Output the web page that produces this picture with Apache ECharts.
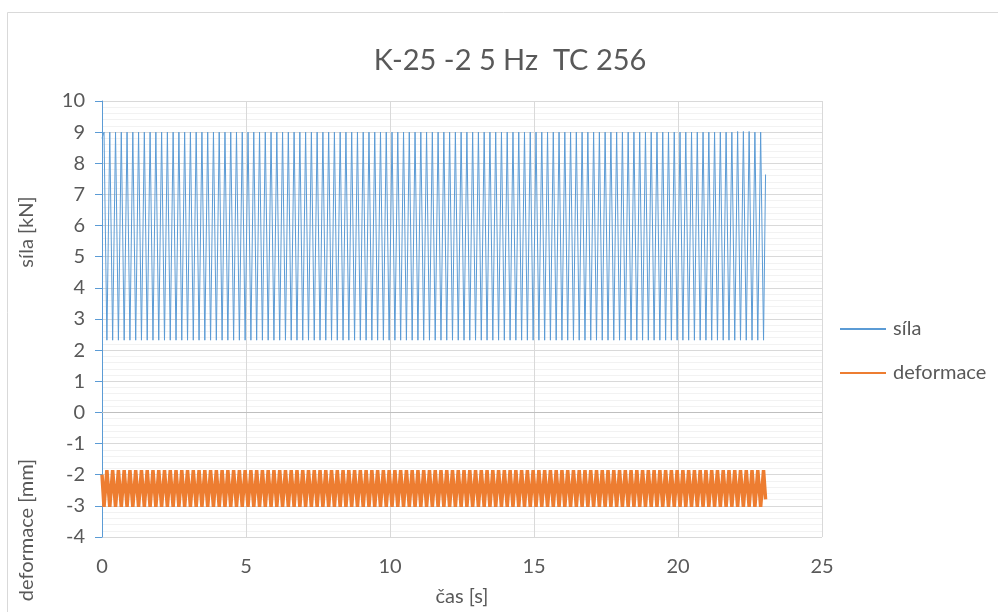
<!DOCTYPE html>
<html>
<head>
<meta charset="utf-8">
<script src="https://cdn.jsdelivr.net/npm/echarts@6/dist/echarts.min.js"></script>
<style>html,body{margin:0;padding:0;background:#fff;}#c{width:998px;height:612px;}</style>
</head>
<body>
<div id="c"></div>
<script>
// time samples [s] (peaks and troughs of the 5 Hz cycles)
var cas = [0,
0.07,0.17,0.27,0.37,0.47,0.57,0.67,0.77,0.87,0.97,
1.07,1.17,1.27,1.37,1.47,1.57,1.67,1.77,1.87,1.97,
2.07,2.17,2.27,2.37,2.47,2.57,2.67,2.77,2.87,2.97,
3.07,3.17,3.27,3.37,3.47,3.57,3.67,3.77,3.87,3.97,
4.07,4.17,4.27,4.37,4.47,4.57,4.67,4.77,4.87,4.97,
5.07,5.17,5.27,5.37,5.47,5.57,5.67,5.77,5.87,5.97,
6.07,6.17,6.27,6.37,6.47,6.57,6.67,6.77,6.87,6.97,
7.07,7.17,7.27,7.37,7.47,7.57,7.67,7.77,7.87,7.97,
8.07,8.17,8.27,8.37,8.47,8.57,8.67,8.77,8.87,8.97,
9.07,9.17,9.27,9.37,9.47,9.57,9.67,9.77,9.87,9.97,
10.07,10.17,10.27,10.37,10.47,10.57,10.67,10.77,10.87,10.97,
11.07,11.17,11.27,11.37,11.47,11.57,11.67,11.77,11.87,11.97,
12.07,12.17,12.27,12.37,12.47,12.57,12.67,12.77,12.87,12.97,
13.07,13.17,13.27,13.37,13.47,13.57,13.67,13.77,13.87,13.97,
14.07,14.17,14.27,14.37,14.47,14.57,14.67,14.77,14.87,14.97,
15.07,15.17,15.27,15.37,15.47,15.57,15.67,15.77,15.87,15.97,
16.07,16.17,16.27,16.37,16.47,16.57,16.67,16.77,16.87,16.97,
17.07,17.17,17.27,17.37,17.47,17.57,17.67,17.77,17.87,17.97,
18.07,18.17,18.27,18.37,18.47,18.57,18.67,18.77,18.87,18.97,
19.07,19.17,19.27,19.37,19.47,19.57,19.67,19.77,19.87,19.97,
20.07,20.17,20.27,20.37,20.47,20.57,20.67,20.77,20.87,20.97,
21.07,21.17,21.27,21.37,21.47,21.57,21.67,21.77,21.87,21.97,
22.07,22.17,22.27,22.37,22.47,22.57,22.67,22.77,22.87,22.97,
23.04];

// síla [kN]
var sila = [8.8,
9.0,2.32,9.0,2.32,9.0,2.32,9.0,2.32,9.0,2.32,
9.0,2.32,9.0,2.32,9.0,2.32,9.0,2.32,9.0,2.32,
9.0,2.32,9.0,2.32,9.0,2.32,9.0,2.32,9.0,2.32,
9.0,2.32,9.0,2.32,9.0,2.32,9.0,2.32,9.0,2.32,
9.0,2.32,9.0,2.32,9.0,2.32,9.0,2.32,9.0,2.32,
9.0,2.32,9.0,2.32,9.0,2.32,9.0,2.32,9.0,2.32,
9.0,2.32,9.0,2.32,9.0,2.32,9.0,2.32,9.0,2.32,
9.0,2.32,9.0,2.32,9.0,2.32,9.0,2.32,9.0,2.32,
9.0,2.32,9.0,2.32,9.0,2.32,9.0,2.32,9.0,2.32,
9.0,2.32,9.0,2.32,9.0,2.32,9.0,2.32,9.0,2.32,
9.0,2.32,9.0,2.32,9.0,2.32,9.0,2.32,9.0,2.32,
9.0,2.32,9.0,2.32,9.0,2.32,9.0,2.32,9.0,2.32,
9.0,2.32,9.0,2.32,9.0,2.32,9.0,2.32,9.0,2.32,
9.0,2.32,9.0,2.32,9.0,2.32,9.0,2.32,9.0,2.32,
9.0,2.32,9.0,2.32,9.0,2.32,9.0,2.32,9.0,2.32,
9.0,2.32,9.0,2.32,9.0,2.32,9.0,2.32,9.0,2.32,
9.0,2.32,9.0,2.32,9.0,2.32,9.0,2.32,9.0,2.32,
9.0,2.32,9.0,2.32,9.0,2.32,9.0,2.32,9.0,2.32,
9.0,2.32,9.0,2.32,9.0,2.32,9.0,2.32,9.0,2.32,
9.0,2.32,9.0,2.32,9.0,2.32,9.0,2.32,9.0,2.32,
9.0,2.32,9.0,2.32,9.0,2.32,9.0,2.32,9.0,2.32,
9.0,2.32,9.0,2.32,9.0,2.32,9.0,2.32,9.0,2.32,
9.02,2.32,9.02,2.32,9.02,2.32,9.0,2.32,9.0,2.32,
7.64];

// deformace [mm]
var deformace = [-2.0,
-3.03,-1.85,-3.03,-1.85,-3.03,-1.85,-3.03,-1.85,-3.03,-1.85,
-3.03,-1.85,-3.03,-1.85,-3.03,-1.85,-3.03,-1.85,-3.03,-1.85,
-3.03,-1.85,-3.03,-1.85,-3.03,-1.85,-3.03,-1.85,-3.03,-1.85,
-3.03,-1.85,-3.03,-1.85,-3.03,-1.85,-3.03,-1.85,-3.03,-1.85,
-3.03,-1.85,-3.03,-1.85,-3.03,-1.85,-3.03,-1.85,-3.03,-1.85,
-3.03,-1.85,-3.03,-1.85,-3.03,-1.85,-3.03,-1.85,-3.03,-1.85,
-3.03,-1.85,-3.03,-1.85,-3.03,-1.85,-3.03,-1.85,-3.03,-1.85,
-3.03,-1.85,-3.03,-1.85,-3.03,-1.85,-3.03,-1.85,-3.03,-1.85,
-3.03,-1.85,-3.03,-1.85,-3.03,-1.85,-3.03,-1.85,-3.03,-1.85,
-3.03,-1.85,-3.03,-1.85,-3.03,-1.85,-3.03,-1.85,-3.03,-1.85,
-3.03,-1.85,-3.03,-1.85,-3.03,-1.85,-3.03,-1.85,-3.03,-1.85,
-3.03,-1.85,-3.03,-1.85,-3.03,-1.85,-3.03,-1.85,-3.03,-1.85,
-3.03,-1.85,-3.03,-1.85,-3.03,-1.85,-3.03,-1.85,-3.03,-1.85,
-3.03,-1.85,-3.03,-1.85,-3.03,-1.85,-3.03,-1.85,-3.03,-1.85,
-3.03,-1.85,-3.03,-1.85,-3.03,-1.85,-3.03,-1.85,-3.03,-1.85,
-3.03,-1.85,-3.03,-1.85,-3.03,-1.85,-3.03,-1.85,-3.03,-1.85,
-3.03,-1.85,-3.03,-1.85,-3.03,-1.85,-3.03,-1.85,-3.03,-1.85,
-3.03,-1.85,-3.03,-1.85,-3.03,-1.85,-3.03,-1.85,-3.03,-1.85,
-3.03,-1.85,-3.03,-1.85,-3.03,-1.85,-3.03,-1.85,-3.03,-1.85,
-3.03,-1.85,-3.03,-1.85,-3.03,-1.85,-3.03,-1.85,-3.03,-1.85,
-3.03,-1.85,-3.03,-1.85,-3.03,-1.85,-3.03,-1.85,-3.03,-1.85,
-3.03,-1.85,-3.03,-1.85,-3.03,-1.85,-3.03,-1.85,-3.03,-1.85,
-3.03,-1.85,-3.03,-1.85,-3.03,-1.85,-3.03,-1.85,-3.03,-1.85,
-2.79];

var titleText = 'K-25 -2 5 Hz  TC 256';
var xName = 'čas [s]';
var yNameTop = 'síla [kN]';
var yNameBottom = 'deformace [mm]';
var seriesNames = ['síla', 'deformace'];

var FONT = 'Lato, "Open Sans", sans-serif';
var TXT = '#595959';

function pairs(xs, ys) {
  var out = [];
  for (var i = 0; i < xs.length; i++) out.push([xs[i], ys[i]]);
  return out;
}

var chart = echarts.init(document.getElementById('c'), null, {renderer: 'canvas'});
chart.setOption({
  animation: false,
  backgroundColor: '#fff',
  textStyle: {fontFamily: FONT},
  title: {
    text: titleText, left: 505, top: 41, textAlign: 'center',
    textStyle: {fontFamily: FONT, fontSize: 29, fontWeight: 'normal', color: TXT}
  },
  grid: {left: 102, top: 101, right: 176, bottom: 71, containLabel: false},
  legend: {
    orient: 'vertical', left: 834, top: 314, itemGap: 24,
    itemWidth: 46, itemHeight: 20,
    itemStyle: {opacity: 0},
    textStyle: {fontFamily: FONT, fontSize: 20, color: TXT, padding: [0,0,0,2]},
    data: seriesNames
  },
  xAxis: {
    type: 'value', min: 0, max: 25, interval: 5,
    axisLine: {show: false, onZero: false},
    axisTick: {show: false},
    axisLabel: {fontFamily: FONT, fontSize: 20, color: TXT, margin: 20},
    splitLine: {show: true, lineStyle: {color: '#D9D9D9', width: 1}},
    name: xName, nameLocation: 'middle', nameGap: 50,
    nameTextStyle: {fontFamily: FONT, fontSize: 20, color: TXT}
  },
  yAxis: {
    type: 'value', min: -4, max: 10, interval: 1,
    axisLine: {show: true, lineStyle: {color: '#5B9BD5', width: 1}},
    axisTick: {show: true, length: 7, lineStyle: {color: '#5B9BD5'}},
    axisLabel: {fontFamily: FONT, fontSize: 20, color: TXT, margin: 17},
    splitLine: {show: true, lineStyle: {color: '#D9D9D9', width: 1}},
    minorTick: {show: false, splitNumber: 5},
    minorSplitLine: {show: true, lineStyle: {color: '#F2F2F2', width: 1}}
  },
  graphic: [
    {type: 'rect', shape: {x: 7.5, y: 12.5, width: 1000, height: 700}, style: {fill: 'none', stroke: '#D9D9D9', lineWidth: 1}, z: -1, silent: true},
    {type: 'text', x: 27, y: 232, rotation: Math.PI/2, style: {text: yNameTop, font: '20px ' + FONT, fill: TXT, textAlign: 'center', textVerticalAlign: 'middle'}},
    {type: 'text', x: 27, y: 530, rotation: Math.PI/2, style: {text: yNameBottom, font: '20px ' + FONT, fill: TXT, textAlign: 'center', textVerticalAlign: 'middle'}}
  ],
  series: [
    {
      name: seriesNames[0], type: 'line', data: pairs(cas, sila),
      showSymbol: false, symbol: 'none', sampling: null, smooth: false,
      lineStyle: {color: '#5B9BD5', width: 1}, itemStyle: {color: '#5B9BD5'},
      z: 3,
      markLine: {
        silent: true, symbol: 'none', label: {show: false},
        lineStyle: {color: '#BFBFBF', width: 1, type: 'solid'},
        data: [{yAxis: 0}]
      }
    },
    {
      name: seriesNames[1], type: 'line', data: pairs(cas, deformace),
      showSymbol: false, symbol: 'none', sampling: null, smooth: false,
      lineStyle: {color: '#ED7D31', width: 3.5}, itemStyle: {color: '#ED7D31'},
      z: 4
    }
  ]
});
</script>
</body>
</html>
